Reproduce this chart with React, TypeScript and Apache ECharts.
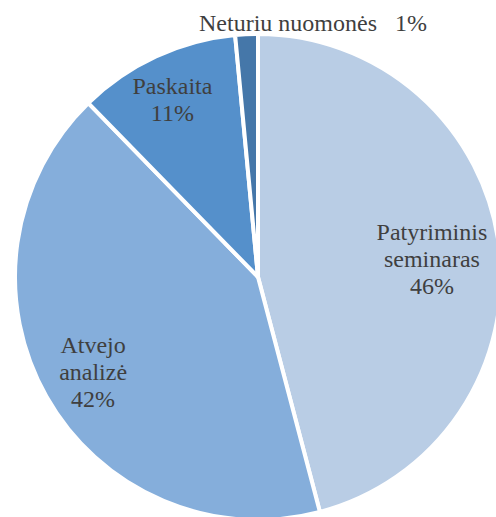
import React, { useEffect, useRef } from "react";
import * as echarts from "echarts";

const categories = ["Patyriminis\nseminaras", "Atvejo\nanalizė", "Paskaita", "Neturiu nuomonės"];
const values = [45.9, 41.8, 10.8, 1.5];
const colors = ["#b9cde5", "#85aedb", "#5590cb", "#4577a9"];

const CX = 258;
const CY = 277;
const R = 243;
const FONT = "Liberation Serif";

const labelNudges = [
  { dx: -14, dy: 6 },
  { dx: 0, dy: 2 },
  { dx: -6, dy: -6 },
];

export default function App() {
  const ref = useRef<HTMLDivElement>(null);
  useEffect(() => {
    if (!ref.current) return;
    const chart = echarts.init(ref.current, undefined, { renderer: "svg" });
    const data = categories.map((name, i) => ({
      name,
      value: values[i],
      itemStyle: { color: colors[i] },
    }));
    chart.setOption({
      animation: false,
      backgroundColor: "#ffffff",
      series: [
        {
          type: "pie",
          center: [CX, CY],
          radius: [0, R],
          startAngle: 90,
          clockwise: true,
          silent: true,
          label: { show: false },
          labelLine: { show: false },
          itemStyle: { borderColor: "#ffffff", borderWidth: 4 },
          data,
        },
        {
          type: "pie",
          center: [CX, CY],
          radius: [130, R],
          startAngle: 90,
          clockwise: true,
          silent: true,
          percentPrecision: 0,
          itemStyle: { color: "transparent" },
          labelLine: { show: false },
          label: {
            show: true,
            position: "inside",
            color: "#3f3f3f",
            fontSize: 24,
            lineHeight: 27,
            fontFamily: FONT,
            formatter: (p: any) =>
              p.dataIndex === 3 ? `${p.name}   ${p.percent}%` : `${p.name}\n${p.percent}%`,
          },
          labelLayout: (p: any) => {
            const i = p.dataIndex;
            if (i === 3) {
              return { x: CX + 55, y: CY - R - 11, align: "center", verticalAlign: "middle" };
            }
            return labelNudges[i];
          },
          data: categories.map((name, i) => ({ name, value: values[i] })),
        },
      ],
    });
    return () => chart.dispose();
  }, []);
  return (
    <div
      ref={ref}
      style={{ position: "fixed", left: 0, top: 0, width: 496, height: 517 }}
    />
  );
}
